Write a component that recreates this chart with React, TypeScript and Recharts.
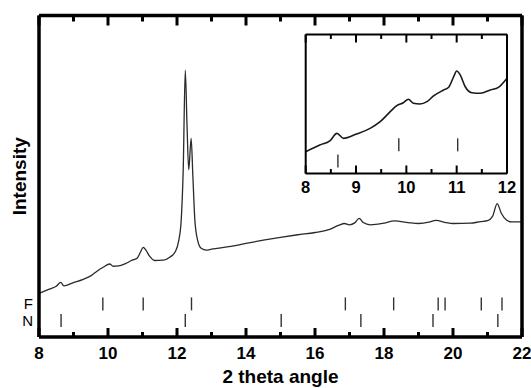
import React from "react";
import {
  ComposedChart,
  Line,
  Scatter,
  XAxis,
  YAxis,
} from "recharts";

// main pattern, 8-22 deg
const angles = [
  8.0, 8.3, 8.5, 8.63, 8.72, 9.0, 9.3, 9.5, 9.7, 9.85, 10.05, 10.15, 10.3, 10.5,
  10.7, 10.85, 10.95, 11.02, 11.1, 11.2, 11.35, 11.6, 11.8, 11.95, 12.05, 12.12,
  12.18, 12.24, 12.29, 12.34, 12.41, 12.46, 12.52, 12.6, 12.7, 12.85, 13.0, 13.5,
  14.0, 14.5, 15.0, 15.5, 16.0, 16.4, 16.7, 16.85, 17.0, 17.15, 17.28, 17.4, 17.6,
  18.0, 18.3, 18.7, 19.0, 19.3, 19.5, 19.8, 20.0, 20.5, 20.8, 21.0, 21.15, 21.28,
  21.4, 21.55, 21.7, 22.0,
];
const intensity = [
  13.6, 14.9, 15.8, 17.0, 15.9, 16.9, 18.0, 19.0, 20.6, 21.6, 22.7, 22.0, 22.1, 22.8,
  23.9, 24.6, 26.6, 27.9, 27.0, 25.2, 23.8, 23.9, 24.9, 26.5, 30.0, 36.0,
  52.0, 83.0, 66.0, 52.0, 61.8, 50.0, 36.0, 30.0, 27.6, 27.0, 27.3, 28.1,
  29.1, 30.1, 31.0, 31.8, 32.5, 33.4, 34.8, 35.3, 34.9, 35.5, 36.9, 35.6, 34.9,
  35.4, 36.1, 35.6, 35.3, 35.7, 36.3, 35.6, 35.3, 35.4, 35.9, 36.2, 37.6, 41.5,
  38.5, 36.4, 35.8, 35.8,
];

// inset, 8-12 deg
const insetAngles = [
  8.0, 8.28, 8.48, 8.62, 8.75, 9.01, 9.28, 9.48, 9.68, 9.81, 9.94, 10.04, 10.14,
  10.27, 10.41, 10.54, 10.74, 10.84, 10.94, 11.0, 11.07, 11.17, 11.3, 11.47, 11.67,
  11.83, 12.0,
];
const insetIntensity = [
  15.7, 20.5, 23.4, 28.9, 25.3, 28.4, 32.5, 37.3, 44.5, 48.8, 50.9, 53.4, 50.5,
  50.0, 51.7, 55.8, 60.1, 62.0, 69.6, 73.7, 70.9, 62.4, 58.1, 57.7, 60.1,
  62.0, 68.5,
];

// reflection positions
const fPeaks = [9.85, 11.02, 12.42, 16.88, 18.28, 19.57, 19.77, 20.82, 21.42];
const nPeaks = [8.64, 12.24, 15.02, 17.33, 19.42, 21.3];

const mainTicks = [8, 9, 10, 11, 12, 13, 14, 15, 16, 17, 18, 19, 20, 21, 22];
const mainMajor = [8, 10, 12, 14, 16, 18, 20, 22];
const mainMinor = [9, 11, 13, 15, 17, 19, 21];
const insetTicks = [8, 8.5, 9, 9.5, 10, 10.5, 11, 11.5, 12];
const insetMajor = [8, 9, 10, 11, 12];
const insetMinor = [8.5, 9.5, 10.5, 11.5];

const F_ROW = 10.3;
const N_ROW = 5.1;
const INSET_F_ROW = 20.6;
const INSET_N_ROW = 9.0;
const Y_MIN = 0;
const Y_MAX = 100;

const FONT = "'Liberation Sans', Arial, Helvetica, sans-serif";

const curve = angles.map((a, i) => ({ angle: a, v: intensity[i] }));
const insetCurve = insetAngles.map((a, i) => ({ angle: a, v: insetIntensity[i] }));

const fMarks = fPeaks.map((a) => ({ angle: a, v: F_ROW }));
const nMarks = nPeaks.map((a) => ({ angle: a, v: N_ROW }));
const insetF = fPeaks.filter((a) => a <= 12).map((a) => ({ angle: a, v: INSET_F_ROW }));
const insetN = nPeaks.filter((a) => a <= 12).map((a) => ({ angle: a, v: INSET_N_ROW }));

// points on the bottom / top edge, used for the inward frame ticks
const at = (list: number[], v: number) => list.map((a) => ({ angle: a, v }));

const Mark = (props: any) => {
  const { cx, cy } = props;
  return (
    <line x1={cx} x2={cx} y1={cy - 6.5} y2={cy + 6.5} stroke="#333" strokeWidth={1.4} />
  );
};

// tick drawn from the plot edge inwards: tickDir -1 = up, +1 = down
const EdgeTick = (props: any) => {
  const { cx, cy, tickDir, tickLen, tickW } = props;
  return (
    <line x1={cx} x2={cx} y1={cy} y2={cy + tickDir * tickLen} stroke="#000" strokeWidth={tickW} />
  );
};

const AxisTick = (props: any) => {
  const { x, y, payload, kind, showLabel } = props;
  const inset = kind === "inset";
  const v = payload.value;
  const major = inset ? Number.isInteger(v) : v % 2 === 0;
  if (!showLabel || !major) return <g />;
  return (
    <text
      x={x}
      y={y + (inset ? 19.5 : 22)}
      textAnchor="middle"
      fontFamily={FONT}
      fontWeight="bold"
      fontSize={inset ? 16.5 : 17}
      fill="#000"
    >
      {v}
    </text>
  );
};

const mainAxisLine = { stroke: "#000", strokeWidth: 3.5 };
const insetAxisLine = { stroke: "#000", strokeWidth: 2 };

const App: React.FC = () => {
  return (
    <div style={{ position: "absolute", left: 0, top: 0, width: 531, height: 388, background: "#fff", fontFamily: FONT }}>
      <ComposedChart
        width={531}
        height={388}
        margin={{ top: 14.5, right: 8, bottom: 0, left: 0 }}
      >
        <XAxis
          dataKey="angle"
          type="number"
          domain={[8, 22]}
          ticks={mainTicks}
          interval={0}
          height={51}
          tickSize={0}
          tickMargin={0}
          tickLine={false}
          axisLine={mainAxisLine}
          tick={<AxisTick kind="main" showLabel />}
          label={{
            value: "2 theta angle",
            position: "insideBottom",
            offset: 5,
            fontFamily: FONT,
            fontWeight: "bold",
            fontSize: 19,
            fill: "#000",
          }}
        />
        <XAxis
          xAxisId="top"
          orientation="top"
          dataKey="angle"
          type="number"
          domain={[8, 22]}
          height={1}
          tick={false}
          tickLine={false}
          axisLine={mainAxisLine}
        />
        <YAxis
          dataKey="v"
          type="number"
          domain={[Y_MIN, Y_MAX]}
          width={39}
          ticks={[N_ROW, F_ROW]}
          interval={0}
          tickFormatter={(v: number) => (v === F_ROW ? "F" : "N")}
          tickSize={0}
          tickMargin={6}
          tickLine={false}
          tick={{ fill: "#000", fontSize: 15, fontFamily: FONT }}
          axisLine={mainAxisLine}
          label={{
            value: "Intensity",
            angle: -90,
            position: "center",
            fontFamily: FONT,
            fontWeight: "bold",
            fontSize: 19,
            fill: "#000",
          }}
        />
        <YAxis
          yAxisId="right"
          orientation="right"
          type="number"
          domain={[Y_MIN, Y_MAX]}
          width={1}
          tick={false}
          tickLine={false}
          axisLine={mainAxisLine}
        />
        <Line
          data={curve}
          dataKey="v"
          type="monotone"
          stroke="#2a2a2a"
          strokeWidth={1.3}
          dot={false}
          activeDot={false}
          isAnimationActive={false}
        />
        {/* invisible copy so the top and right frame axes are drawn */}
        <Line
          data={curve}
          dataKey="v"
          xAxisId="top"
          yAxisId="right"
          stroke="none"
          dot={false}
          activeDot={false}
          legendType="none"
          isAnimationActive={false}
        />
        <Scatter data={fMarks} dataKey="v" shape={<Mark />} isAnimationActive={false} />
        <Scatter data={nMarks} dataKey="v" shape={<Mark />} isAnimationActive={false} />
        <Scatter data={at(mainMajor, Y_MIN)} dataKey="v" shape={<EdgeTick tickDir={-1} tickLen={9} tickW={3} />} isAnimationActive={false} />
        <Scatter data={at(mainMinor, Y_MIN)} dataKey="v" shape={<EdgeTick tickDir={-1} tickLen={5} tickW={3} />} isAnimationActive={false} />
        <Scatter data={at(mainMajor, Y_MAX)} dataKey="v" shape={<EdgeTick tickDir={1} tickLen={10} tickW={3} />} isAnimationActive={false} />
        <Scatter data={at(mainMinor, Y_MAX)} dataKey="v" shape={<EdgeTick tickDir={1} tickLen={6} tickW={3} />} isAnimationActive={false} />
      </ComposedChart>

      <div style={{ position: "absolute", left: 290, top: 20, width: 241, height: 190 }}>
        <ComposedChart
          width={241}
          height={190}
          margin={{ top: 13.5, right: 23, bottom: 0, left: 0 }}
        >
          <XAxis
            dataKey="angle"
            type="number"
            domain={[8, 12]}
            ticks={insetTicks}
            interval={0}
            height={36.5}
            tickSize={0}
            tickMargin={0}
            tickLine={false}
            axisLine={insetAxisLine}
            tick={<AxisTick kind="inset" showLabel />}
          />
          <XAxis
            xAxisId="top"
            orientation="top"
            dataKey="angle"
            type="number"
            domain={[8, 12]}
            height={1}
            tick={false}
            tickLine={false}
            axisLine={insetAxisLine}
          />
          <YAxis
            dataKey="v"
            type="number"
            domain={[Y_MIN, Y_MAX]}
            width={15.7}
            tick={false}
            tickLine={false}
            axisLine={insetAxisLine}
          />
          <YAxis
            yAxisId="right"
            orientation="right"
            type="number"
            domain={[Y_MIN, Y_MAX]}
            width={1}
            tick={false}
            tickLine={false}
            axisLine={insetAxisLine}
          />
          <Line
            data={insetCurve}
            dataKey="v"
            type="monotone"
            stroke="#1a1a1a"
            strokeWidth={1.6}
            dot={false}
            activeDot={false}
            isAnimationActive={false}
          />
          <Line
            data={insetCurve}
            dataKey="v"
            xAxisId="top"
            yAxisId="right"
            stroke="none"
            dot={false}
            activeDot={false}
            legendType="none"
            isAnimationActive={false}
          />
          <Scatter data={insetF} dataKey="v" shape={<Mark />} isAnimationActive={false} />
          <Scatter data={insetN} dataKey="v" shape={<Mark />} isAnimationActive={false} />
          <Scatter data={at(insetMajor, Y_MIN)} dataKey="v" shape={<EdgeTick tickDir={-1} tickLen={8} tickW={2} />} isAnimationActive={false} />
          <Scatter data={at(insetMinor, Y_MIN)} dataKey="v" shape={<EdgeTick tickDir={-1} tickLen={4.5} tickW={2} />} isAnimationActive={false} />
          <Scatter data={at(insetMajor, Y_MAX)} dataKey="v" shape={<EdgeTick tickDir={1} tickLen={8} tickW={2} />} isAnimationActive={false} />
          <Scatter data={at(insetMinor, Y_MAX)} dataKey="v" shape={<EdgeTick tickDir={1} tickLen={4.5} tickW={2} />} isAnimationActive={false} />
        </ComposedChart>
      </div>
    </div>
  );
};

export default App;
